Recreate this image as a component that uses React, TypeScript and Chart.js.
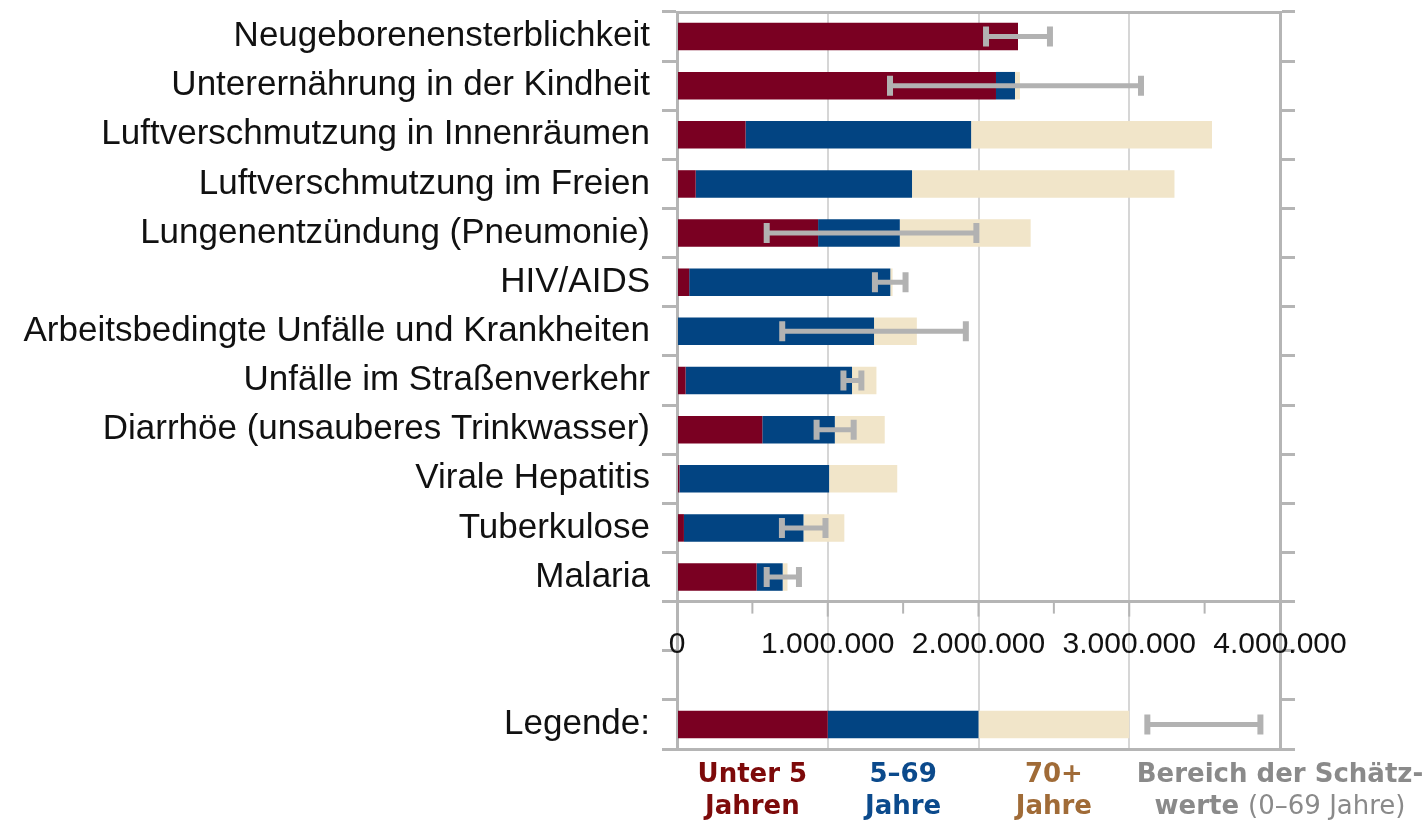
import React, { useEffect, useRef } from "react";
import { Chart, registerables } from "chart.js";

Chart.register(...registerables);

const categories = [
  "Neugeborenensterblichkeit",
  "Unterernährung in der Kindheit",
  "Luftverschmutzung in Innenräumen",
  "Luftverschmutzung im Freien",
  "Lungenentzündung (Pneumonie)",
  "HIV/AIDS",
  "Arbeitsbedingte Unfälle und Krankheiten",
  "Unfälle im Straßenverkehr",
  "Diarrhöe (unsauberes Trinkwasser)",
  "Virale Hepatitis",
  "Tuberkulose",
  "Malaria",
];

const under5 = [2262000, 2116000, 455000, 124000, 936000, 81000, 0, 57000, 566000, 16000, 46000, 528000];
const age5to69 = [0, 126000, 1496000, 1435000, 542000, 1334000, 1307000, 1104000, 481000, 993000, 793000, 173000];
const age70plus = [0, 33000, 1598000, 1741000, 868000, 15000, 284000, 162000, 331000, 452000, 271000, 32000];
const errLow: (number | null)[] = [2050000, 1413000, null, null, 595000, 1313000, 698000, 1104000, 926000, null, 696000, 595000];
const errHigh: (number | null)[] = [2474000, 3078000, null, null, 1986000, 1516000, 1916000, 1223000, 1172000, null, 985000, 809000];

const legendRowLabel = "Legende:";
const legendValues = [1000000, 1000000, 1000000];
const legendErr = [3120000, 3870000];

const xTicks = [0, 1000000, 2000000, 3000000, 4000000];
const minorStep = 500000;

const seriesColors = ["#7a0022", "#024482", "#f1e5c9"];
const legendText = [
  { lines: [[{ t: "Unter 5", b: true }], [{ t: "Jahren", b: true }]], color: "#7d0a0a" },
  { lines: [[{ t: "5–69", b: true }], [{ t: "Jahre", b: true }]], color: "#0b4a8c" },
  { lines: [[{ t: "70+", b: true }], [{ t: "Jahre", b: true }]], color: "#a06b37" },
  {
    lines: [[{ t: "Bereich der Schätz-", b: true }], [{ t: "werte ", b: true }, { t: "(0–69 Jahre)", b: false }]],
    color: "#8a8a8a",
  },
];

const AXIS_GRAY = "#b5b5b5";
const ERR_GRAY = "#b2b2b2";
const LABEL_FONT = "'Liberation Sans', Arial, sans-serif";
const LEGEND_FONT = "'DejaVu Sans', Verdana, sans-serif";

const fmt = (v: number) => String(v).replace(/\B(?=(\d{3})+(?!\d))/g, ".");

export default function App() {
  const ref = useRef<HTMLCanvasElement | null>(null);

  useEffect(() => {
    if (!ref.current) return;
    const labels = [...categories, "", "", legendRowLabel];
    const pad = [null, null];
    const d1 = [...under5, ...pad, legendValues[0]];
    const d2 = [...age5to69, ...pad, legendValues[1]];
    const d3 = [...age70plus, ...pad, legendValues[2]];
    const lows = [...errLow, ...pad, legendErr[0]];
    const highs = [...errHigh, ...pad, legendErr[1]];

    const decoPlugin = {
      id: "deco",
      afterDatasetsDraw(chart: any) {
        const ctx = chart.ctx;
        const x = chart.scales.x;
        const y = chart.scales.y;
        ctx.save();
        ctx.strokeStyle = ERR_GRAY;
        for (let i = 0; i < labels.length; i++) {
          const lo = lows[i];
          const hi = highs[i];
          if (lo == null || hi == null) continue;
          const yc = y.getPixelForValue(i);
          const x1 = x.getPixelForValue(lo);
          const x2 = x.getPixelForValue(hi);
          ctx.lineWidth = 5;
          ctx.beginPath();
          ctx.moveTo(x1, yc);
          ctx.lineTo(x2, yc);
          ctx.stroke();
          ctx.lineWidth = 6;
          ctx.beginPath();
          ctx.moveTo(x1, yc - 10);
          ctx.lineTo(x1, yc + 10);
          ctx.moveTo(x2, yc - 10);
          ctx.lineTo(x2, yc + 10);
          ctx.stroke();
        }
        ctx.restore();
      },
      afterDraw(chart: any) {
        const ctx = chart.ctx;
        const x = chart.scales.x;
        const y = chart.scales.y;
        const area = chart.chartArea;
        const n = categories.length;
        const yLine = (y.getPixelForValue(n - 1) + y.getPixelForValue(n)) / 2;
        ctx.save();
        ctx.strokeStyle = AXIS_GRAY;
        ctx.lineWidth = 3;
        ctx.beginPath();
        ctx.moveTo(area.left - 15, yLine);
        ctx.lineTo(area.right + 15, yLine);
        ctx.stroke();
        ctx.lineWidth = 2;
        for (let v = 0; v <= x.max; v += minorStep) {
          const px = x.getPixelForValue(v);
          const major = v % 1000000 === 0;
          ctx.beginPath();
          ctx.moveTo(px, yLine);
          ctx.lineTo(px, yLine + (major ? 15 : 12));
          ctx.stroke();
        }
        // tick labels
        ctx.fillStyle = "#111111";
        ctx.font = `30px ${LABEL_FONT}`;
        ctx.textAlign = "center";
        ctx.textBaseline = "middle";
        const rowH = y.getPixelForValue(1) - y.getPixelForValue(0);
        const yLab = yLine + rowH * 0.88;
        xTicks.forEach((v) => ctx.fillText(fmt(v), x.getPixelForValue(v), yLab));
        // legend texts
        let cum = 0;
        const centers: number[] = legendValues.map((v) => {
          const c = cum + v / 2;
          cum += v;
          return x.getPixelForValue(c);
        });
        centers.push(x.getPixelForValue(x.max));
        const yBottom = area.bottom;
        legendText.forEach((item, idx) => {
          item.lines.forEach((line, li) => {
            const ly = yBottom + 26 + li * 32;
            let total = 0;
            const widths = line.map((seg) => {
              ctx.font = `${seg.b ? "bold " : ""}26px ${LEGEND_FONT}`;
              const w = ctx.measureText(seg.t).width;
              total += w;
              return w;
            });
            let sx = centers[idx] - total / 2;
            line.forEach((seg, si) => {
              ctx.font = `${seg.b ? "bold " : ""}26px ${LEGEND_FONT}`;
              ctx.fillStyle = item.color;
              ctx.textAlign = "left";
              ctx.fillText(seg.t, sx, ly);
              sx += widths[si];
            });
          });
        });
        ctx.restore();
      },
    };

    const gridTicks = {
      offset: true,
      drawOnChartArea: false,
      tickLength: 15,
      color: AXIS_GRAY,
      lineWidth: 3,
    };

    const chart = new Chart(ref.current, {
      type: "bar",
      data: {
        labels,
        datasets: [
          { label: "Unter 5 Jahren", data: d1, backgroundColor: seriesColors[0], xAxisID: "x", yAxisID: "y" },
          { label: "5–69 Jahre", data: d2, backgroundColor: seriesColors[1], xAxisID: "x", yAxisID: "y" },
          { label: "70+ Jahre", data: d3, backgroundColor: seriesColors[2], xAxisID: "x", yAxisID: "y" },
        ],
      },
      options: {
        indexAxis: "y",
        animation: false,
        responsive: true,
        maintainAspectRatio: false,
        layout: { padding: 0 },
        plugins: { legend: { display: false }, tooltip: { enabled: false } },
        datasets: { bar: { categoryPercentage: 1, barPercentage: 0.56, borderWidth: 0 } },
        scales: {
          x: {
            type: "linear",
            position: "bottom",
            stacked: true,
            min: 0,
            max: 4000000,
            ticks: { display: false, stepSize: 1000000 },
            grid: { color: "#d6d6d6", lineWidth: 2, drawTicks: false },
            border: { display: true, color: AXIS_GRAY, width: 3 },
            afterFit: (s: any) => {
              s.height = 75;
              s.paddingLeft = 0;
              s.paddingRight = 0;
            },
          },
          x2: {
            type: "linear",
            position: "top",
            ticks: { display: false },
            grid: { display: false, drawTicks: false },
            border: { display: true, color: AXIS_GRAY, width: 3 },
            afterFit: (s: any) => {
              s.height = 12;
              s.paddingLeft = 0;
              s.paddingRight = 0;
            },
          },
          y: {
            type: "category",
            position: "left",
            stacked: true,
            grid: gridTicks,
            border: { display: true, color: AXIS_GRAY, width: 3 },
            ticks: {
              color: "#111111",
              font: { family: LABEL_FONT, size: 35 },
              padding: 12,
              autoSkip: false,
            },
            afterFit: (s: any) => {
              s.width = 677;
              s.paddingTop = 0;
              s.paddingBottom = 0;
            },
          },
          y2: {
            type: "category",
            position: "right",
            grid: gridTicks,
            border: { display: true, color: AXIS_GRAY, width: 3 },
            ticks: { display: false },
            afterFit: (s: any) => {
              s.width = 144;
              s.paddingTop = 0;
              s.paddingBottom = 0;
            },
          },
        },
      } as any,
      plugins: [decoPlugin],
    });
    return () => chart.destroy();
  }, []);

  return (
    <div style={{ position: "absolute", left: 0, top: 0, width: 1424, height: 824, background: "#ffffff" }}>
      <canvas ref={ref} />
    </div>
  );
}
